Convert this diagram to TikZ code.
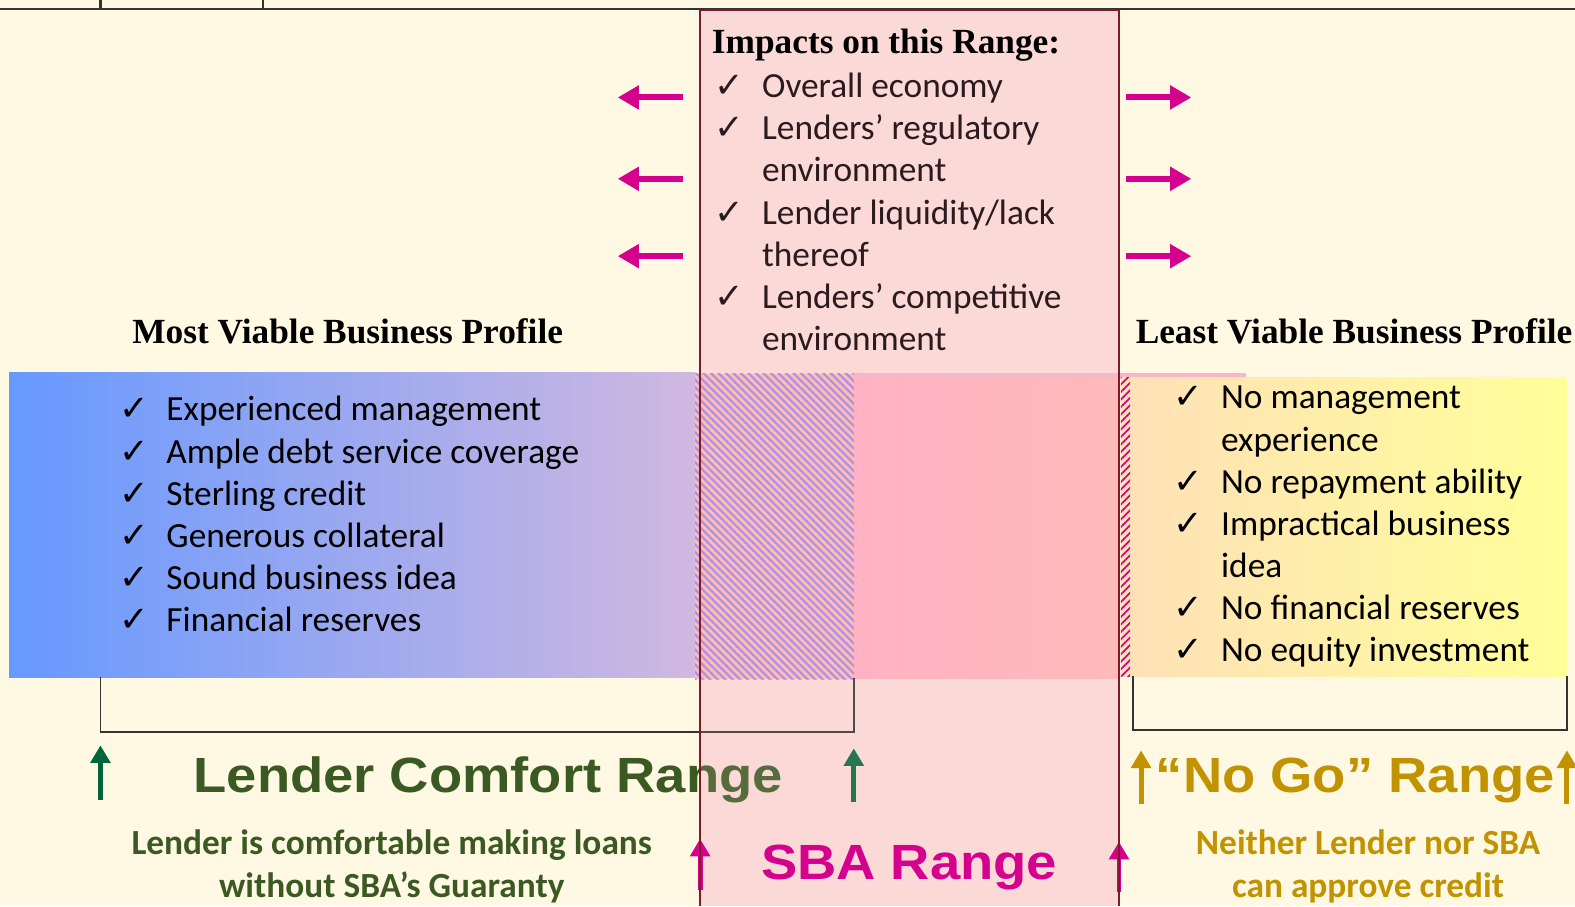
\documentclass[tikz,border=0pt]{standalone}
\usepackage{fontspec}
\setmainfont{Carlito}
\newfontfamily\headfont{Liberation Serif}
\newfontfamily\bigfont{Liberation Sans}
\newfontfamily\chkfont{DejaVu Sans}
\usetikzlibrary{arrows.meta,patterns.meta}

\definecolor{paper}{HTML}{FFF8E2}
\definecolor{sbafill}{HTML}{FBD9D7}
\definecolor{sbaline}{HTML}{7B1B28}
\definecolor{sbapink}{HTML}{D6008F}
\definecolor{comfort}{HTML}{3B5A23}
\definecolor{comfortarrow}{HTML}{00663A}
\definecolor{nogo}{HTML}{C29300}
\definecolor{inktext}{HTML}{2B1B1F}
\definecolor{mostleft}{HTML}{6699FF}
\definecolor{mostright}{HTML}{D0B8E0}
\definecolor{midleft}{HTML}{FFB2C4}
\definecolor{midright}{HTML}{FFBABA}
\definecolor{leastleft}{HTML}{FFE0B8}
\definecolor{leastright}{HTML}{FFFF99}
\definecolor{hatchbg}{HTML}{FFBDB0}
\definecolor{hatchline}{HTML}{A98FF0}
\definecolor{stripbg}{HTML}{FFE6B0}
\definecolor{topstrip}{HTML}{F7B6CA}

\newcommand{\chk}{\makebox[0.47cm][l]{\chkfont ✓}}
\newcommand{\indt}{\hspace*{0.47cm}}

\begin{document}
\begin{tikzpicture}[x=0.01cm, y=-0.01cm,
    item/.style={anchor=base west, inner sep=0, font=\fontsize{10}{12}\selectfont},
    head/.style={anchor=base west, inner sep=0, font=\headfont\bfseries\fontsize{10}{12}\selectfont},
    big/.style={anchor=base west, inner sep=0, font=\bigfont\bfseries\fontsize{14}{16}\selectfont},
    note/.style={anchor=base, inner sep=0, font=\bfseries\fontsize{10}{12}\selectfont},
    sidear/.style={sbapink, line width=1.7pt, -{Triangle[length=6pt,width=6.5pt]}},
    upar/.style={line width=1.4pt, -{Triangle[length=5pt,width=5.5pt]}},
    bracket/.style={black!80, line width=0.45pt}]

    \fill[paper] (0,0) rectangle (1568,902);
    \useasboundingbox (0,0) rectangle (1568,902);

    \draw[black!80, line width=0.7pt] (0,9) -- (1568,9);
    \draw[black!80, line width=0.7pt] (100,0) -- (100,9);
    \draw[black!80, line width=0.7pt] (262,0) -- (262,9);

    % SBA column
    \fill[sbafill] (697,10) rectangle (1114,902);

    % profile bands
    \shade[left color=mostleft, right color=mostright] (9,371) rectangle (692,674);
    \fill[topstrip] (850,371) rectangle (1240,377);
    \shade[left color=midleft, right color=midright] (850,377) rectangle (1114,675);
    \fill[hatchbg] (692,372) rectangle (850,676);
    \fill[pattern={Lines[angle=-45,distance=1.5pt,line width=0.6pt]}, pattern color=hatchline] (692,372) rectangle (850,676);
    \shade[left color=leastleft, right color=leastright] (1116,376) rectangle (1560,673);
    \fill[stripbg] (1116,376) rectangle (1125,673);
    \fill[pattern={Lines[angle=45,distance=1.5pt,line width=0.5pt]}, pattern color=sbapink] (1116,376) rectangle (1125,673);

    \draw[bracket] (100,674) -- (100,729) -- (850,729) -- (850,675);
    \draw[bracket] (1128,673) -- (1128,727) -- (1560,727) -- (1560,673);

    \node[head] (impacts) at (708,53) {Impacts on this Range:};
    \foreach \txt [count=\i] in {{\chk Overall economy}, {\chk Lenders’ regulatory}, {\indt environment},
        {\chk Lender liquidity/lack}, {\indt thereof}, {\chk Lenders’ competitive}, {\indt environment}}
        \node[item, text=inktext] (imp\i) at (711, {55+42*\i}) {\txt};

    \foreach \y in {97,178,255} {
        \draw[sidear] (680,\y) -- (615,\y);
        \draw[sidear] (1121,\y) -- (1186,\y);
    }

    \node[head] (most) at (131,342) {Most Viable Business Profile};
    \node[head] (least) at (1130,342) {Least Viable Business Profile};

    \foreach \txt [count=\i] in {Experienced management, Ample debt service coverage, Sterling credit,
        Generous collateral, Sound business idea, Financial reserves}
        \node[item] (most\i) at (118, {377+42*\i}) {\chk\txt};

    \foreach \txt [count=\i] in {{\chk No management}, {\indt experience}, {\chk No repayment ability},
        {\chk Impractical business}, {\indt idea}, {\chk No financial reserves}, {\chk No equity investment}}
        \node[item] (least\i) at (1168, {365+42*\i}) {\txt};

    \node[big, text=comfort] (comfortlbl) at (192,789) {\scalebox{1.1}[1]{Lender Comfort Range}};
    \draw[upar, comfortarrow] (100,796) -- (100,742);
    \draw[upar, comfortarrow] (850,798) -- (850,745);
    \node[note, text=comfort] (comfort1) at (390,851) {Lender is comfortable making loans};
    \node[note, text=comfort] (comfort2) at (390,893) {without SBA’s Guaranty};

    \node[big, text=nogo] (nogolbl) at (1150,789) {\scalebox{1.1}[1]{“No Go” Range}};
    \draw[upar, nogo] (1136,800) -- (1136,747);
    \draw[upar, nogo] (1560,800) -- (1560,747);
    \node[note, text=nogo] (nogo1) at (1362,851) {Neither Lender nor SBA};
    \node[note, text=nogo] (nogo2) at (1362,893) {can approve credit};

    % column tint over the lower labels
    \fill[sbafill, opacity=0.15] (697,676) rectangle (1114,902);

    \node[big, text=sbapink] (sbalbl) at (757,876) {\scalebox{1.1}[1]{SBA Range}};
    \draw[upar, sbapink] (697,886) -- (697,835);
    \draw[upar, sbapink] (1114,888) -- (1114,838);

    \draw[sbaline, line width=0.7pt] (697,902) -- (697,10) -- (1114,10) -- (1114,902);
\end{tikzpicture}
\end{document}
